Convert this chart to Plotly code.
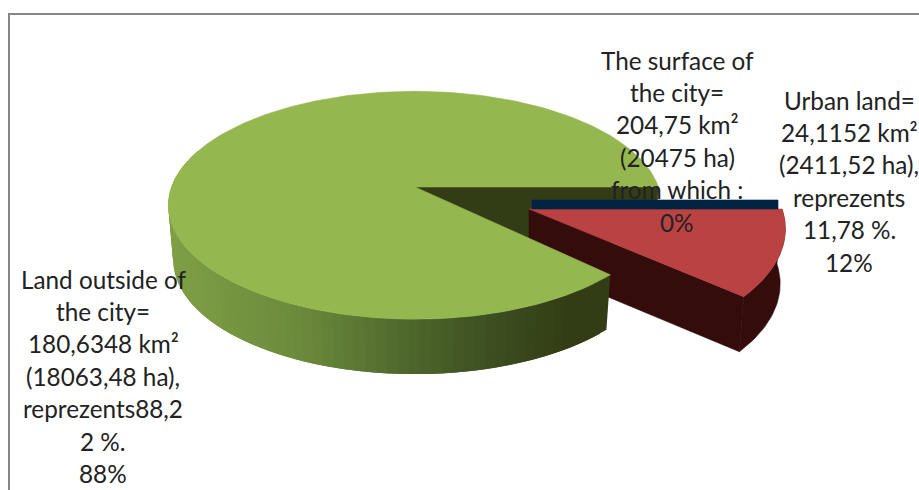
import math
import plotly.graph_objects as go

# ---- data ----
categories = ["Land outside of the city", "Urban land", "The surface of the city"]
areas_km2 = [180.6348, 24.1152, 0.0]
outside_label = ["Land outside of", "the city=", "180,6348 km²", "(18063,48 ha),", "reprezents88,2", "2 %.", "88%"]
urban_label = ["Urban land=", "24,1152 km²", "(2411,52 ha),", "reprezents", "11,78 %.", "12%"]
surface_label = ["The surface of", "the city=", "204,75 km²", "(20475 ha)", "from which :", "0%"]

# ---- styling / projection of the 3D pie ----
C_GREEN, C_RED, C_NAVY = "#95b74f", "#bb4242", "#002442"
C_GREEN_WALL, C_RED_WALL = "#333d15", "#340c0c"
C_TEXT = "#222222"
FONT = "Lato"
FONT_SIZE = 24.3
LINE_H = 32.4
DEPTH = 55
DEPTH_SCALE = 0.98
GREEN_GEO = dict(cx=415, cy=187, R=243.5, K=111, p=0.16, skew=2.2)
RED_GEO = dict(cx=529, cy=209, R=253, K=121, p=0.16, skew=-1.9)
NAVY_HEIGHT = 9
WALL_STOPS = [(168, (128, 160, 70)), (300, (108, 138, 60)), (400, (80, 106, 46)),
              (500, (60, 77, 32)), (570, (51, 61, 21)), (620, (51, 61, 21))]

total = sum(areas_km2)
urban_sweep = 360 * areas_km2[1] / total


def project(geo, deg, r=1.0):
    u = r * math.cos(math.radians(deg))
    v = r * math.sin(math.radians(deg))
    w = 1 - geo["p"] * v
    return geo["cx"] + geo["R"] * u / w, geo["cy"] + geo["K"] * v / w


def lowered(geo, pt):
    return geo["cx"] + (pt[0] - geo["cx"]) * DEPTH_SCALE, pt[1] + DEPTH


def arc(geo, a0, a1, n):
    return [project(geo, a0 + (a1 - a0) * i / n) for i in range(n + 1)]


def wall_color(x):
    for (x0, c0), (x1, c1) in zip(WALL_STOPS, WALL_STOPS[1:]):
        if x <= x1:
            t = max(0.0, (x - x0) / (x1 - x0))
            return "rgb(%d,%d,%d)" % tuple(c0[i] + (c1[i] - c0[i]) * t for i in range(3))
    return "rgb(51,61,21)"


fig = go.Figure()


def poly(points, color, lw=0.6):
    xs = [p[0] for p in points] + [points[0][0]]
    ys = [p[1] for p in points] + [points[0][1]]
    fig.add_trace(go.Scatter(x=xs, y=ys, mode="lines", fill="toself", fillcolor=color,
                             line=dict(color=color, width=lw), hoverinfo="skip", showlegend=False))


G, Rd = GREEN_GEO, RED_GEO
apex_g = (G["cx"], G["cy"])
apex_r = (Rd["cx"], Rd["cy"])
g_start = urban_sweep + G["skew"]
r_end = urban_sweep + Rd["skew"]

# inner wall of the green piece, visible through the gap
g_edge = project(G, 0)
poly([apex_g, g_edge, lowered(G, g_edge), lowered(G, apex_g)], C_GREEN_WALL)

# red piece walls
r_corner = project(Rd, r_end)
poly([apex_r, r_corner, lowered(Rd, r_corner), lowered(Rd, apex_r)], C_RED_WALL)
r_arc = arc(Rd, 0, r_end, 30)
poly(r_arc + [lowered(Rd, p) for p in reversed(r_arc)], C_RED_WALL)
poly([apex_r] + r_arc, C_RED)

# zero-sized slice: a thin wall on the red piece's upper edge
r_top = project(Rd, 0)
poly([(apex_r[0] + 3, apex_r[1]), (apex_r[0] + 3, apex_r[1] - NAVY_HEIGHT),
      (r_top[0] - 4, r_top[1] - NAVY_HEIGHT), (r_top[0] - 4, r_top[1])], C_NAVY)

# green outer wall with horizontal shading; each strip overlaps the next to avoid seams
g_wall = arc(G, g_start, 200, 70)
for i in range(len(g_wall) - 1):
    p0, p1 = g_wall[i], g_wall[min(i + 2, len(g_wall) - 1)]
    poly([p0, p1, lowered(G, p1), lowered(G, p0)], wall_color((g_wall[i][0] + g_wall[i + 1][0]) / 2), lw=0)

# green top
poly([apex_g] + arc(G, g_start, 360, 240), C_GREEN)


def add_label(lines, center_x, first_y):
    for i, line in enumerate(lines):
        fig.add_annotation(x=center_x, y=first_y + i * LINE_H, text=line, showarrow=False,
                           xanchor="center", yanchor="middle",
                           font=dict(family=FONT, size=FONT_SIZE, color=C_TEXT))


add_label(surface_label, 677, 60)
add_label(urban_label, 849, 100)
add_label(outside_label, 103, 279)

fig.add_shape(type="rect", x0=9, y0=14, x1=930, y1=500, line=dict(color="#868686", width=2), layer="above")

fig.update_layout(
    width=919, height=490, margin=dict(l=0, r=0, t=0, b=0),
    paper_bgcolor="white", plot_bgcolor="white", showlegend=False,
    xaxis=dict(range=[0, 919], visible=False, fixedrange=True),
    yaxis=dict(range=[490, 0], visible=False, fixedrange=True),
)
fig.write_html("out.html", config={"displayModeBar": False},
               post_script="document.body.style.margin='0';document.documentElement.style.overflow='hidden';")
